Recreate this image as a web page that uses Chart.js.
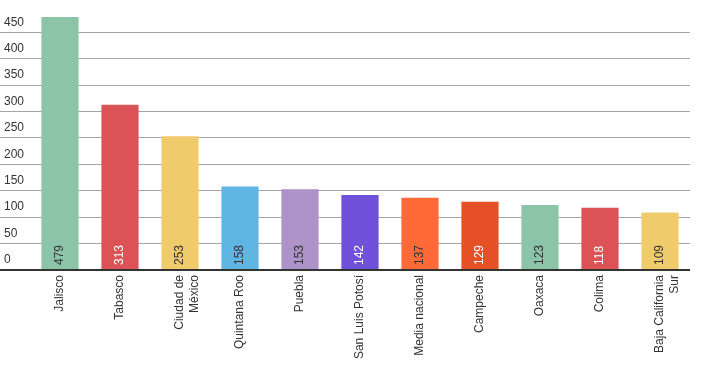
<!DOCTYPE html>
<html>
<head>
<meta charset="utf-8">
<script src="https://cdn.jsdelivr.net/npm/chart.js@4/dist/chart.umd.min.js"></script>
<style>
html,body{margin:0;padding:0;background:#fff;}
#wrap{width:713px;height:375px;position:relative;}
</style>
</head>
<body>
<div id="wrap"><canvas id="c"></canvas></div>
<script>
const categories = ['Jalisco','Tabasco',['Ciudad de','México'],'Quintana Roo','Puebla','San Luis Potosí','Media nacional','Campeche','Oaxaca','Colima',['Baja California','Sur']];
const values = [479,313,253,158,153,142,137,129,123,118,109];
const barColors = ['#8cc4a7','#db5257','#f0cb6b','#5fb6e3','#ad93c8','#6f52d9','#ff6a38','#e55026','#8cc4a7','#db5257','#f0cb6b'];
const valueLabelColors = ['#333','#fff','#333','#333','#333','#fff','#333','#fff','#333','#fff','#333'];
const yTicks = [0,50,100,150,200,250,300,350,400,450];

const FONT = "'Liberation Sans', Arial, sans-serif";

const valueLabels = {
  id: 'valueLabels',
  afterDatasetsDraw(chart) {
    const ctx = chart.ctx;
    const meta = chart.getDatasetMeta(0);
    meta.data.forEach((bar, i) => {
      ctx.save();
      ctx.translate(bar.x, bar.base - 4);
      ctx.rotate(-Math.PI / 2);
      ctx.font = '12px ' + FONT;
      ctx.fillStyle = valueLabelColors[i];
      ctx.textAlign = 'left';
      ctx.textBaseline = 'middle';
      ctx.fillText(String(values[i]), 0, 0);
      ctx.restore();
    });
  }
};

new Chart(document.getElementById('c'), {
  type: 'bar',
  data: {
    labels: categories,
    datasets: [{
      data: values,
      backgroundColor: barColors,
      borderWidth: 0,
      categoryPercentage: 1,
      barPercentage: 0.62
    }]
  },
  options: {
    responsive: true,
    maintainAspectRatio: false,
    animation: false,
    layout: { padding: { left: 4, right: 23, top: 17, bottom: 0 } },
    plugins: { legend: { display: false }, tooltip: { enabled: false } },
    scales: {
      x: {
        grid: { display: false },
        border: { display: false },
        afterFit(scale) { scale.height = 105; },
        ticks: {
          minRotation: 90, maxRotation: 90,
          autoSkip: false,
          padding: -3,
          color: '#333',
          font: { family: FONT, size: 12 }
        }
      },
      y: {
        min: 0, max: 479,
        afterFit(scale) { scale.width = 26; },
        afterBuildTicks(scale) { scale.ticks = yTicks.map(v => ({ value: v })); },
        border: { display: false },
        grid: {
          drawTicks: true,
          tickLength: 30,
          color: ctx => (ctx.tick && ctx.tick.value === 0) ? '#333' : '#a6a6a6',
          lineWidth: ctx => (ctx.tick && ctx.tick.value === 0) ? 2 : 1
        },
        ticks: {
          includeBounds: false,
          crossAlign: 'far',
          padding: 0,
          labelOffset: -10,
          color: '#333',
          font: { family: FONT, size: 12 }
        }
      }
    }
  },
  plugins: [valueLabels]
});
</script>
</body>
</html>
